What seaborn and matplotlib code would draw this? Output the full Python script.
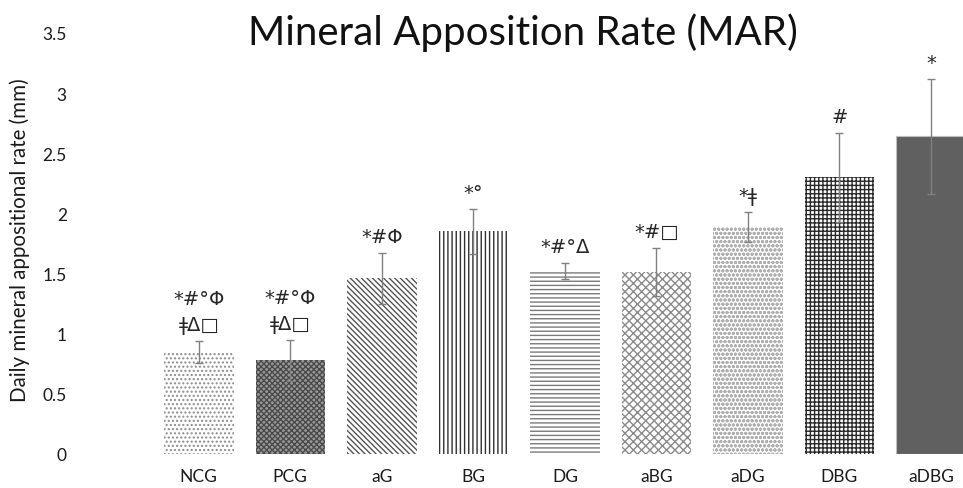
import matplotlib
matplotlib.use("Agg")
import matplotlib.pyplot as plt
import seaborn as sns
import pandas as pd
import numpy as np

# Group labels, mean daily mineral apposition rate and SD
groups = ["NCG", "PCG", "aG", "BG", "DG", "aBG", "aDG", "DBG", "aDBG"]
means = [0.85, 0.78, 1.46, 1.85, 1.52, 1.51, 1.89, 2.30, 2.64]
errors = [0.09, 0.17, 0.21, 0.19, 0.065, 0.20, 0.125, 0.37, 0.48]
signif = ["*#°Φ\nǂΔ□", "*#°Φ\nǂΔ□", "*#Φ", "*°", "*#°Δ", "*#□", "*ǂ", "#", "*"]

# Fill style per group: (facecolor, hatch, hatch colour)
styles = [
    ("white", "....", "#8c8c8c"),
    ("#9a9a9a", "xxxxxx", "#4a4a4a"),
    ("white", "\\\\\\\\\\\\", "#555555"),
    ("white", "||||", "#303030"),
    ("white", "----", "#7a7a7a"),
    ("white", "xxxx", "#8a8a8a"),
    ("white", "oooo", "#b0b0b0"),
    ("white", "++++", "#2a2a2a"),
    ("#606060", "", "#bdbdbd"),
]

sns.set_theme(style="white")
plt.rcParams["font.family"] = ["Lato", "DejaVu Sans"]
plt.rcParams["hatch.linewidth"] = 1.0

df = pd.DataFrame({"group": groups, "rate": means})

fig = plt.figure(figsize=(9.63, 4.89), dpi=100)
ax = fig.add_axes([153 / 963, 34 / 489, (963 - 153) / 963, 421 / 489])

sns.barplot(data=df, x="group", y="rate", order=groups, width=0.76,
            color="white", errorbar=None, ax=ax)

for patch, (fc, hatch, hc) in zip(ax.patches, styles):
    patch.set_facecolor(fc)
    patch.set_hatch(hatch)
    patch.set_edgecolor(hc)
    patch.set_linewidth(0 if hatch else 0.8)

x = np.arange(len(groups))
ax.errorbar(x, means, yerr=errors, fmt="none", ecolor="#808080",
            elinewidth=1.0, capsize=3, capthick=1.0, zorder=5)

for xi, m, e, s in zip(x, means, errors, signif):
    ax.annotate(s, (xi, m + e), xytext=(0, 5), textcoords="offset points",
                ha="center", va="bottom", fontsize=14, linespacing=1.45,
                family=["DejaVu Sans"])

ax.set_xlim(-0.5, 8 + (963 - 931) / 91.5)
ax.set_ylim(0, 3.5)
ax.set_yticks(np.arange(0, 3.51, 0.5))
ax.set_yticklabels(["0", "0.5", "1", "1.5", "2", "2.5", "3", "3.5"])
ax.tick_params(axis="y", length=0, pad=62, labelsize=12.5, labelcolor="#1a1a1a")
ax.tick_params(axis="x", length=0, pad=10, labelsize=12.5, labelcolor="#1a1a1a")
ax.set_xlabel("")
ax.set_ylabel("Daily mineral appositional rate (mm)", fontsize=14.8,
              color="#1a1a1a")
ax.yaxis.set_label_coords(-0.152, 0.51)
sns.despine(ax=ax, left=True, bottom=True)

fig.text(523 / 963, 1 - 33 / 489, "Mineral Apposition Rate (MAR)",
         ha="center", va="center", fontsize=29, color="#111111")

fig.savefig("out.png", dpi=100, facecolor="white")
